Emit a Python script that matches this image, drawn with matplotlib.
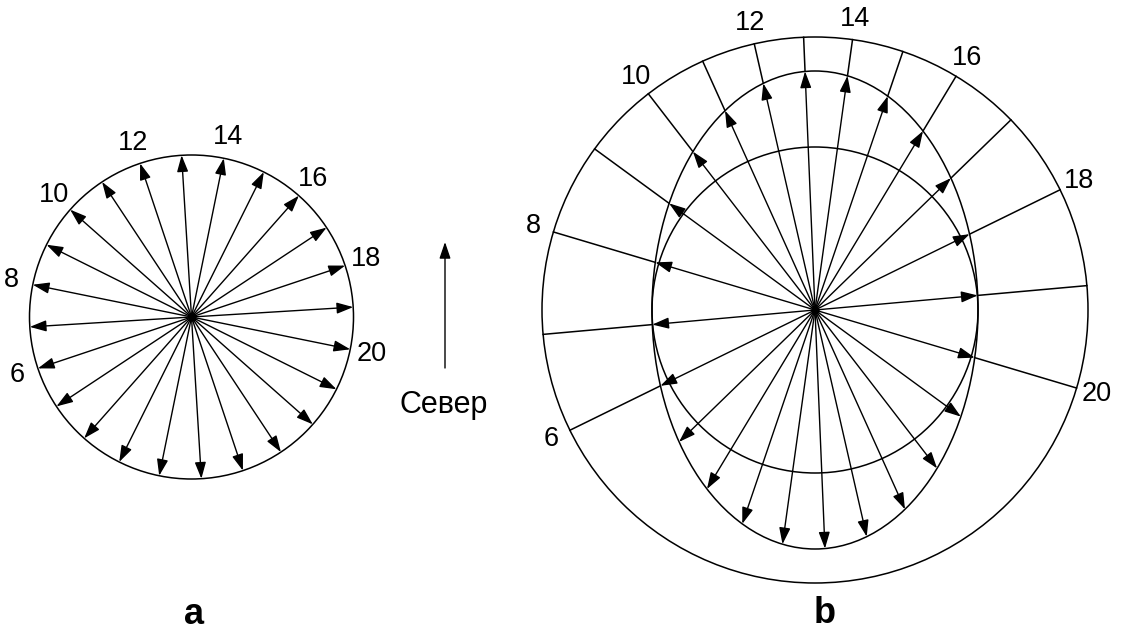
import numpy as np
import matplotlib
matplotlib.use("Agg")
import matplotlib.pyplot as plt
from matplotlib.patches import Circle, Ellipse, FancyArrowPatch

plt.rcParams["font.family"] = ["Liberation Sans", "DejaVu Sans"]

# Hour of each arrow and its azimuth (degrees clockwise from north)
hours = list(range(24))
azimuth = [161.5, 176.5, -168.5, -153.5, -138.5, -123.5, -108.5, -93.5,
           -78.5, -63.5, -48.5, -33.5, -18.5, -3.5, 11.5, 26.5,
           41.5, 56.5, 71.5, 86.5, 101.5, 116.5, 131.5, 146.5]
label_hours = [6, 8, 10, 12, 14, 16, 18, 20]
day_hours = [6, 7, 8, 9, 10, 11, 12, 13, 14, 15, 16, 17, 18, 19, 20]
north_label = "Север"
panel_labels = ["a", "b"]

# geometry in pixels (y goes down)
A_CX, A_CY, A_R = 191.5, 317, 162
B_CX, B_CY = 815, 310
B_RX, B_RY = 163, 239      # ellipse of arrow tips
B_INNER, B_OUTER = 163, 273

LW = 1.1
ARROW = "-|>,head_length=10,head_width=3.4"
NUM_FS = 19.5


def arrow(ax, x0, y0, x1, y1):
    p = FancyArrowPatch((x0, y0), (x1, y1), arrowstyle=ARROW, mutation_scale=1,
                        shrinkA=0, shrinkB=0, color="black", lw=1.0)
    ax.add_patch(p)


fig = plt.figure(figsize=(11.23, 6.30), dpi=100)
ax = fig.add_axes([0, 0, 1, 1])
ax.set_xlim(0, 1123)
ax.set_ylim(630, 0)
ax.axis("off")

# ---- panel a: uniform circle
ax.add_patch(Circle((A_CX, A_CY), A_R, fill=False, color="black", lw=LW))
for h, az in zip(hours, azimuth):
    t = np.radians(az)
    arrow(ax, A_CX, A_CY, A_CX + A_R * np.sin(t), A_CY - A_R * np.cos(t))
    if h in label_hours:
        ax.text(A_CX + 184 * np.sin(t), A_CY - 184 * np.cos(t), str(h),
                fontsize=NUM_FS, ha="center", va="center")
ax.plot(A_CX, A_CY, "o", color="black", ms=5)

# ---- north arrow
arrow(ax, 445, 368, 445, 242)
ax.text(444, 405, north_label, fontsize=22, ha="center", va="center")

# ---- panel b: stretched ellipse
ax.add_patch(Circle((B_CX, B_CY), B_OUTER, fill=False, color="black", lw=LW))
ax.add_patch(Circle((B_CX, B_CY), B_INNER, fill=False, color="black", lw=LW))
ax.add_patch(Ellipse((B_CX, B_CY), 2 * B_RX, 2 * B_RY, fill=False,
                     color="black", lw=LW))
for h, az in zip(hours, azimuth):
    t = np.radians(az)
    tx, ty = B_CX + B_RX * np.sin(t), B_CY - B_RY * np.cos(t)
    arrow(ax, B_CX, B_CY, tx, ty)
    phi = np.arctan2(B_RX * np.sin(t), B_RY * np.cos(t))
    if h in day_hours:
        ax.plot([tx, B_CX + B_OUTER * np.sin(phi)], [ty, B_CY - B_OUTER * np.cos(phi)],
                color="black", lw=LW)
    if h in label_hours:
        ax.text(B_CX + 294 * np.sin(phi), B_CY - 294 * np.cos(phi), str(h),
                fontsize=NUM_FS, ha="center", va="center")
ax.plot(B_CX, B_CY, "o", color="black", ms=5)

ax.text(194, 624, panel_labels[0], fontsize=26, fontweight="bold", ha="center", va="baseline")
ax.text(825, 623, panel_labels[1], fontsize=26, fontweight="bold", ha="center", va="baseline")

fig.savefig("out.png", dpi=100)
